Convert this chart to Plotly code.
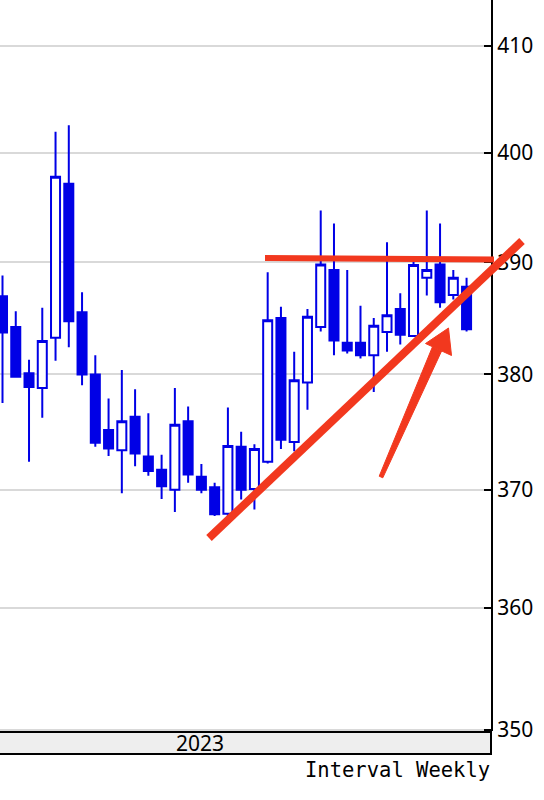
import pandas as pd
import numpy as np
import plotly.graph_objects as go
from datetime import timedelta
import math

# ---- data (weekly candles, 2023) ----
dates = list(pd.date_range("2023-01-09", periods=36, freq="W-MON"))
opens = [386.95, 384.2, 380.1, 378.8, 383.25, 397.15, 385.5, 380.0, 375.15, 373.4,
         376.3, 372.85, 371.7, 370.0, 375.9, 371.1, 370.2, 367.95, 373.7, 370.05,
         372.4, 385.0, 374.1, 379.3, 384.2, 389.3, 382.8, 382.8, 381.7, 383.75,
         385.8, 383.4, 388.6, 389.8, 387.05, 387.8]
highs = [388.8, 385.6, 381.3, 385.9, 401.96, 402.55, 387.3, 381.7, 377.9, 380.4,
         378.7, 376.6, 373.0, 378.8, 377.2, 372.2, 370.6, 377.1, 375.0, 373.9,
         389.1, 386.0, 382.0, 385.8, 394.7, 393.5, 389.3, 386.1, 385.0, 391.8,
         387.2, 390.05, 394.7, 393.5, 389.3, 388.6]
lows = [377.5, 379.7, 372.4, 376.2, 381.2, 382.4, 379.05, 373.7, 372.9, 369.7,
        372.0, 371.2, 369.2, 368.1, 370.6, 369.7, 367.75, 367.6, 369.15, 368.3,
        372.25, 373.5, 373.3, 376.9, 383.8, 381.7, 381.85, 381.4, 378.45, 382.0,
        382.65, 383.3, 387.0, 385.9, 386.65, 383.8]
closes = [383.7, 379.8, 378.9, 382.95, 397.8, 384.7, 380.0, 374.05, 373.55, 375.9,
          373.1, 371.6, 370.3, 375.6, 371.3, 370.0, 367.9, 373.75, 370.0, 373.5,
          384.8, 374.3, 379.5, 385.1, 389.8, 383.0, 382.1, 381.7, 384.3, 385.25,
          383.5, 389.75, 389.3, 386.4, 388.6, 384.0]
y_ticks = [350, 360, 370, 380, 390, 400, 410]
year_label = "2023"
interval_label = "Interval Weekly"

BLUE = "#0000e6"
RED = "#f2381e"

fig = go.Figure()
fig.add_trace(go.Candlestick(
    x=dates, open=opens, high=highs, low=lows, close=closes,
    increasing=dict(line=dict(color=BLUE, width=2), fillcolor="white"),
    decreasing=dict(line=dict(color=BLUE, width=2), fillcolor=BLUE),
    whiskerwidth=0,
    showlegend=False,
))

# plot-area pixel helpers for the hand-drawn overlay
PW, PH = 491.0, 731.0
def px(x):
    return x / PW
def py(y):
    return (PH - y) / PH
def poly(points):
    return "M " + " L ".join(f"{px(a)} {py(b)}" for a, b in points) + " Z"

shapes = []
# year band below the plot
shapes.append(dict(type="rect", xref="paper", yref="paper",
                   x0=-0.01, x1=1, y0=py(732), y1=py(754),
                   fillcolor="#eeeeee", line=dict(color="black", width=2), layer="above"))
# resistance line
shapes.append(dict(type="line", xref="paper", yref="paper",
                   x0=px(265), y0=py(258), x1=px(494), y1=py(259.5),
                   line=dict(color=RED, width=6), layer="above"))
# rising support line
shapes.append(dict(type="line", xref="paper", yref="paper",
                   x0=px(209), y0=py(538), x1=px(522), y1=py(241),
                   line=dict(color=RED, width=8), layer="above"))
# arrow shaft (tapered)
shapes.append(dict(type="path", xref="paper", yref="paper",
                   path=poly([(382.8, 477.8), (379.2, 476.2), (432.4, 347), (441.6, 351)]),
                   fillcolor=RED, line=dict(color=RED, width=1), layer="above"))
# arrow head
shapes.append(dict(type="path", xref="paper", yref="paper",
                   path=poly([(448.5, 328), (425.5, 343.5), (451.5, 355.5)]),
                   fillcolor=RED, line=dict(color=RED, width=1), layer="above"))

x0 = dates[0] - timedelta(days=1.32)
x1 = dates[0] + timedelta(days=257.9)

fig.update_layout(
    width=544, height=800,
    margin=dict(l=0, r=53, t=0, b=69),
    paper_bgcolor="white", plot_bgcolor="white",
    boxgap=0.18, boxgroupgap=0.17,
    shapes=shapes,
    xaxis=dict(range=[x0, x1], showticklabels=False, showgrid=False, zeroline=False,
               showline=False, ticks="", rangeslider=dict(visible=False)),
    yaxis=dict(type="log", side="right", range=[math.log10(349.9), math.log10(414.4)],
               tickvals=y_ticks, ticktext=[str(v) for v in y_ticks],
               ticks="inside", ticklen=7, tickwidth=2, tickcolor="black",
               showline=True, linecolor="black", linewidth=2,
               showgrid=True, gridcolor="#d9d9d9", gridwidth=2, zeroline=False,
               tickfont=dict(family="Noto Sans", size=21, color="black")),
    annotations=[
        dict(text=year_label, xref="paper", yref="paper", x=px(200), y=py(743),
             xanchor="center", yanchor="middle", showarrow=False,
             font=dict(family="Noto Sans", size=21, color="black")),
        dict(text=interval_label, xref="paper", yref="paper", x=1.002, y=py(770),
             xanchor="right", yanchor="middle", showarrow=False,
             font=dict(family="DejaVu Sans Mono", size=20.5, color="black")),
    ],
)

fig.write_html("out.html", config={"displayModeBar": False},
               post_script="document.body.style.margin='0';")
